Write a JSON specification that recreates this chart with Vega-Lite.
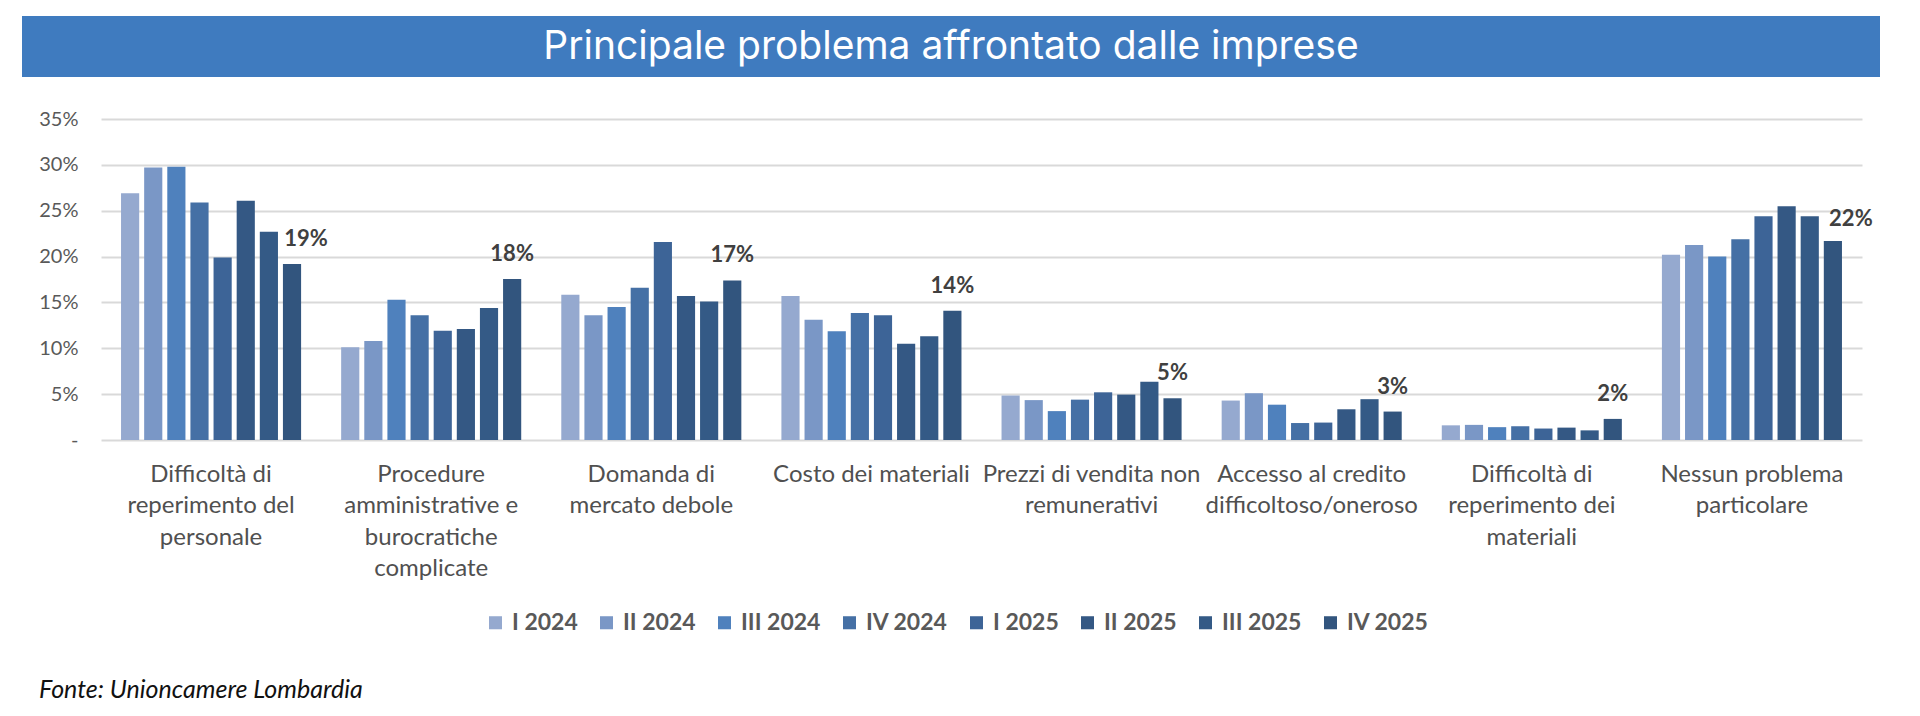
{
  "$schema": "https://vega.github.io/schema/vega-lite/v6.json",
  "background": "white",
  "padding": {"left": 22, "top": 16, "right": 10, "bottom": 0},
  "spacing": 32,
  "title": {
    "text": "Fonte: Unioncamere Lombardia",
    "orient": "bottom",
    "anchor": "start",
    "font": "Lato",
    "fontSize": 25,
    "fontStyle": "italic",
    "fontWeight": "normal",
    "color": "#111111",
    "dx": 17,
    "offset": 43
  },
  "vconcat": [
    {
      "width": 1858,
      "height": 61,
      "view": {"fill": "#3F7BBF", "stroke": null},
      "data": {"values": [{"heading": "Principale problema affrontato dalle imprese"}]},
      "mark": {"type": "text", "color": "white", "font": "Inter", "fontSize": 39, "baseline": "middle", "align": "center"},
      "encoding": {"text": {"field": "heading", "type": "nominal"}}
    },
    {
      "width": 1858,
      "height": 321,
      "view": {"stroke": null},
      "data": {
        "values": [
          {"problema": "Difficoltà di\nreperimento del\npersonale", "trimestre": "I 2024", "quota": 0.269},
          {"problema": "Difficoltà di\nreperimento del\npersonale", "trimestre": "II 2024", "quota": 0.297},
          {"problema": "Difficoltà di\nreperimento del\npersonale", "trimestre": "III 2024", "quota": 0.298},
          {"problema": "Difficoltà di\nreperimento del\npersonale", "trimestre": "IV 2024", "quota": 0.259},
          {"problema": "Difficoltà di\nreperimento del\npersonale", "trimestre": "I 2025", "quota": 0.199},
          {"problema": "Difficoltà di\nreperimento del\npersonale", "trimestre": "II 2025", "quota": 0.261},
          {"problema": "Difficoltà di\nreperimento del\npersonale", "trimestre": "III 2025", "quota": 0.227},
          {"problema": "Difficoltà di\nreperimento del\npersonale", "trimestre": "IV 2025", "quota": 0.192},

          {"problema": "Procedure\namministrative e\nburocratiche\ncomplicate", "trimestre": "I 2024", "quota": 0.101},
          {"problema": "Procedure\namministrative e\nburocratiche\ncomplicate", "trimestre": "II 2024", "quota": 0.108},
          {"problema": "Procedure\namministrative e\nburocratiche\ncomplicate", "trimestre": "III 2024", "quota": 0.153},
          {"problema": "Procedure\namministrative e\nburocratiche\ncomplicate", "trimestre": "IV 2024", "quota": 0.136},
          {"problema": "Procedure\namministrative e\nburocratiche\ncomplicate", "trimestre": "I 2025", "quota": 0.119},
          {"problema": "Procedure\namministrative e\nburocratiche\ncomplicate", "trimestre": "II 2025", "quota": 0.121},
          {"problema": "Procedure\namministrative e\nburocratiche\ncomplicate", "trimestre": "III 2025", "quota": 0.144},
          {"problema": "Procedure\namministrative e\nburocratiche\ncomplicate", "trimestre": "IV 2025", "quota": 0.1755},

          {"problema": "Domanda di\nmercato debole", "trimestre": "I 2024", "quota": 0.1585},
          {"problema": "Domanda di\nmercato debole", "trimestre": "II 2024", "quota": 0.136},
          {"problema": "Domanda di\nmercato debole", "trimestre": "III 2024", "quota": 0.145},
          {"problema": "Domanda di\nmercato debole", "trimestre": "IV 2024", "quota": 0.166},
          {"problema": "Domanda di\nmercato debole", "trimestre": "I 2025", "quota": 0.216},
          {"problema": "Domanda di\nmercato debole", "trimestre": "II 2025", "quota": 0.157},
          {"problema": "Domanda di\nmercato debole", "trimestre": "III 2025", "quota": 0.151},
          {"problema": "Domanda di\nmercato debole", "trimestre": "IV 2025", "quota": 0.174},

          {"problema": "Costo dei materiali", "trimestre": "I 2024", "quota": 0.157},
          {"problema": "Costo dei materiali", "trimestre": "II 2024", "quota": 0.131},
          {"problema": "Costo dei materiali", "trimestre": "III 2024", "quota": 0.1185},
          {"problema": "Costo dei materiali", "trimestre": "IV 2024", "quota": 0.1385},
          {"problema": "Costo dei materiali", "trimestre": "I 2025", "quota": 0.136},
          {"problema": "Costo dei materiali", "trimestre": "II 2025", "quota": 0.105},
          {"problema": "Costo dei materiali", "trimestre": "III 2025", "quota": 0.113},
          {"problema": "Costo dei materiali", "trimestre": "IV 2025", "quota": 0.141},

          {"problema": "Prezzi di vendita non\nremunerativi", "trimestre": "I 2024", "quota": 0.0485},
          {"problema": "Prezzi di vendita non\nremunerativi", "trimestre": "II 2024", "quota": 0.0435},
          {"problema": "Prezzi di vendita non\nremunerativi", "trimestre": "III 2024", "quota": 0.0315},
          {"problema": "Prezzi di vendita non\nremunerativi", "trimestre": "IV 2024", "quota": 0.044},
          {"problema": "Prezzi di vendita non\nremunerativi", "trimestre": "I 2025", "quota": 0.052},
          {"problema": "Prezzi di vendita non\nremunerativi", "trimestre": "II 2025", "quota": 0.0495},
          {"problema": "Prezzi di vendita non\nremunerativi", "trimestre": "III 2025", "quota": 0.0635},
          {"problema": "Prezzi di vendita non\nremunerativi", "trimestre": "IV 2025", "quota": 0.0455},

          {"problema": "Accesso al credito\ndifficoltoso/oneroso", "trimestre": "I 2024", "quota": 0.043},
          {"problema": "Accesso al credito\ndifficoltoso/oneroso", "trimestre": "II 2024", "quota": 0.051},
          {"problema": "Accesso al credito\ndifficoltoso/oneroso", "trimestre": "III 2024", "quota": 0.0385},
          {"problema": "Accesso al credito\ndifficoltoso/oneroso", "trimestre": "IV 2024", "quota": 0.0185},
          {"problema": "Accesso al credito\ndifficoltoso/oneroso", "trimestre": "I 2025", "quota": 0.019},
          {"problema": "Accesso al credito\ndifficoltoso/oneroso", "trimestre": "II 2025", "quota": 0.0335},
          {"problema": "Accesso al credito\ndifficoltoso/oneroso", "trimestre": "III 2025", "quota": 0.0445},
          {"problema": "Accesso al credito\ndifficoltoso/oneroso", "trimestre": "IV 2025", "quota": 0.031},

          {"problema": "Difficoltà di\nreperimento dei\nmateriali", "trimestre": "I 2024", "quota": 0.016},
          {"problema": "Difficoltà di\nreperimento dei\nmateriali", "trimestre": "II 2024", "quota": 0.0165},
          {"problema": "Difficoltà di\nreperimento dei\nmateriali", "trimestre": "III 2024", "quota": 0.014},
          {"problema": "Difficoltà di\nreperimento dei\nmateriali", "trimestre": "IV 2024", "quota": 0.015},
          {"problema": "Difficoltà di\nreperimento dei\nmateriali", "trimestre": "I 2025", "quota": 0.0125},
          {"problema": "Difficoltà di\nreperimento dei\nmateriali", "trimestre": "II 2025", "quota": 0.0135},
          {"problema": "Difficoltà di\nreperimento dei\nmateriali", "trimestre": "III 2025", "quota": 0.0105},
          {"problema": "Difficoltà di\nreperimento dei\nmateriali", "trimestre": "IV 2025", "quota": 0.023},

          {"problema": "Nessun problema\nparticolare", "trimestre": "I 2024", "quota": 0.202},
          {"problema": "Nessun problema\nparticolare", "trimestre": "II 2024", "quota": 0.2125},
          {"problema": "Nessun problema\nparticolare", "trimestre": "III 2024", "quota": 0.2},
          {"problema": "Nessun problema\nparticolare", "trimestre": "IV 2024", "quota": 0.219},
          {"problema": "Nessun problema\nparticolare", "trimestre": "I 2025", "quota": 0.244},
          {"problema": "Nessun problema\nparticolare", "trimestre": "II 2025", "quota": 0.255},
          {"problema": "Nessun problema\nparticolare", "trimestre": "III 2025", "quota": 0.244},
          {"problema": "Nessun problema\nparticolare", "trimestre": "IV 2025", "quota": 0.217}
        ]
      },
      "encoding": {
        "x": {
          "field": "problema",
          "type": "nominal",
          "sort": null,
          "scale": {"range": [79, 1840], "paddingInner": 0.182, "paddingOuter": 0.091},
          "axis": {
            "title": null,
            "labelAngle": 0,
            "labelExpr": "split(datum.label, '\\n')",
            "labelFont": "Lato",
            "labelFontSize": 24,
            "labelLineHeight": 31.5,
            "labelColor": "#505050",
            "labelPadding": 22,
            "labelBaseline": "top",
            "ticks": false,
            "domain": false,
            "labelLimit": 300
          }
        },
        "xOffset": {
          "field": "trimestre",
          "type": "nominal",
          "sort": ["I 2024", "II 2024", "III 2024", "IV 2024", "I 2025", "II 2025", "III 2025", "IV 2025"],
          "scale": {"paddingInner": 0.215, "paddingOuter": 0}
        },
        "y": {
          "field": "quota",
          "type": "quantitative",
          "scale": {"domain": [0, 0.35], "nice": false},
          "axis": {
            "title": null,
            "values": [0, 0.05, 0.1, 0.15, 0.2, 0.25, 0.3, 0.35],
            "format": ".0%",
            "labelExpr": "datum.value === 0 ? '-' : datum.label",
            "labelFont": "Lato",
            "labelFontSize": 20,
            "labelColor": "#595959",
            "labelAlign": "right",
            "labelPadding": -56,
            "ticks": false,
            "domain": false,
            "gridColor": "#D9D9D9",
            "gridWidth": 2
          }
        }
      },
      "layer": [
        {
          "mark": {"type": "bar"},
          "encoding": {
            "color": {
              "field": "trimestre",
              "type": "nominal",
              "sort": ["I 2024", "II 2024", "III 2024", "IV 2024", "I 2025", "II 2025", "III 2025", "IV 2025"],
              "scale": {
                "domain": ["I 2024", "II 2024", "III 2024", "IV 2024", "I 2025", "II 2025", "III 2025", "IV 2025"],
                "range": ["#95A9CF", "#7A97C6", "#4F81BD", "#4570A5", "#3D6497", "#345884", "#345A86", "#32557E"]
              },
              "legend": {
                "title": null,
                "orient": "none",
                "legendX": 462,
                "legendY": 595,
                "direction": "horizontal",
                "symbolType": "square",
                "symbolSize": 170,
                "symbolStrokeWidth": 0,
                "labelFont": "Lato",
                "labelFontSize": 23,
                "labelFontWeight": "bold",
                "labelColor": "#595959",
                "labelOffset": 5,
                "columnPadding": 17
              }
            }
          }
        },
        {
          "transform": [
            {"filter": "datum.trimestre === 'IV 2025' && datum.problema !== 'Difficoltà di\\nreperimento del\\npersonale' && datum.problema !== 'Nessun problema\\nparticolare'"}
          ],
          "mark": {"type": "text", "font": "Lato", "fontSize": 22, "fontWeight": "bold", "color": "#404040", "baseline": "alphabetic", "dy": -18},
          "encoding": {"text": {"field": "quota", "type": "quantitative", "format": ".0%"}}
        },
        {
          "transform": [
            {"filter": "datum.trimestre === 'IV 2025' && datum.problema === 'Difficoltà di\\nreperimento del\\npersonale'"}
          ],
          "mark": {"type": "text", "font": "Lato", "fontSize": 22, "fontWeight": "bold", "color": "#404040", "baseline": "alphabetic", "dx": 14, "dy": -18},
          "encoding": {"text": {"field": "quota", "type": "quantitative", "format": ".0%"}}
        },
        {
          "transform": [
            {"filter": "datum.trimestre === 'IV 2025' && datum.problema === 'Nessun problema\\nparticolare'"}
          ],
          "mark": {"type": "text", "font": "Lato", "fontSize": 22, "fontWeight": "bold", "color": "#404040", "baseline": "alphabetic", "dx": 18, "dy": -15},
          "encoding": {"text": {"field": "quota", "type": "quantitative", "format": ".0%"}}
        }
      ]
    }
  ]
}
